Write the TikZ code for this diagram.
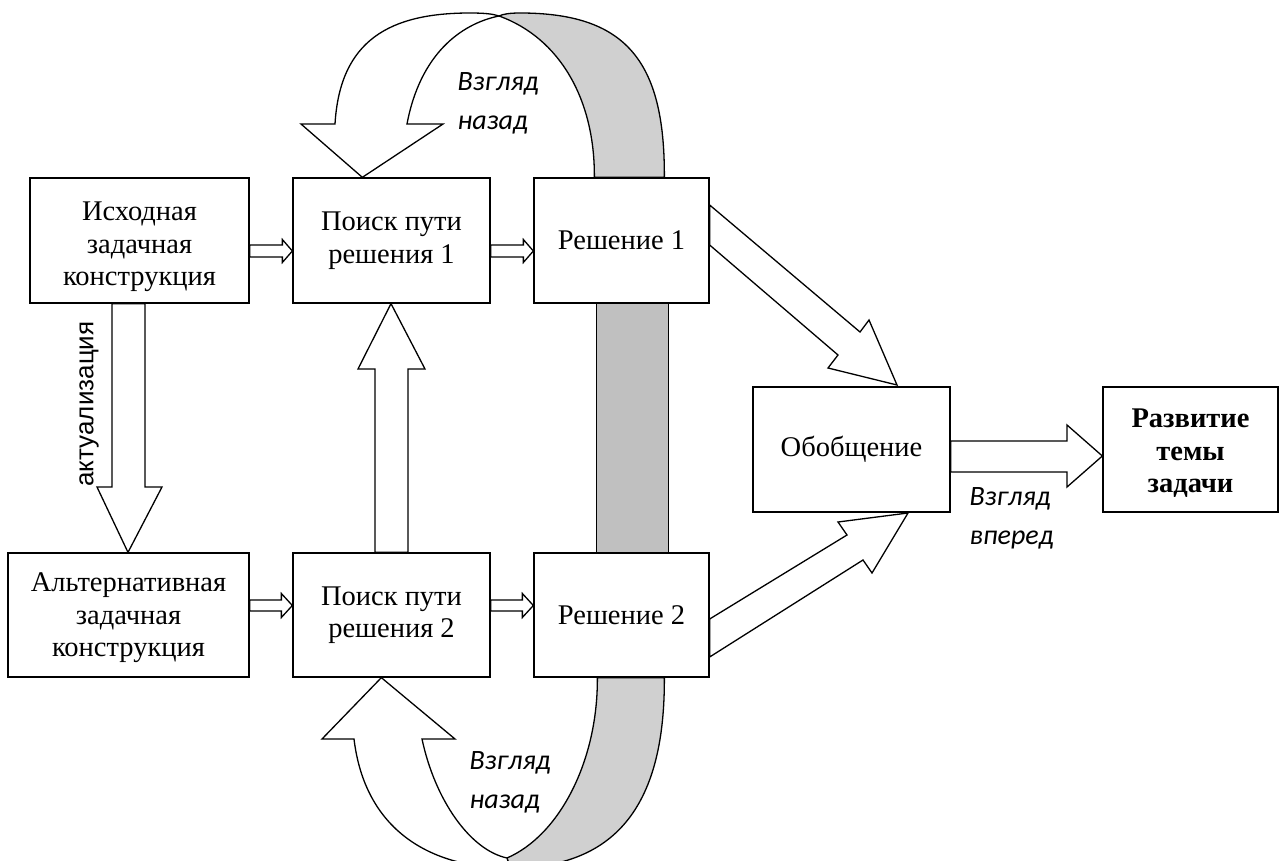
\documentclass[tikz,border=0pt]{standalone}
\usepackage{fontspec}
\setmainfont{Liberation Serif}
\newfontfamily\calibfont{Carlito}
\newfontfamily\arialfont{Liberation Sans}
\usetikzlibrary{calc}
\definecolor{bandlight}{RGB}{208,208,208}
\definecolor{banddark}{RGB}{192,192,192}
\newcommand\hblock[6]{% from, to, y, shaft half, head half, head length
  \draw[blockarrow] ($(#1.east|-0,#3)+(0,-#4)$) -- ($(#2.west|-0,#3)+(-#6,-#4)$)
    -- ($(#2.west|-0,#3)+(-#6,-#5)$) -- (#2.west|-0,#3)
    -- ($(#2.west|-0,#3)+(-#6,#5)$) -- ($(#2.west|-0,#3)+(-#6,#4)$)
    -- ($(#1.east|-0,#3)+(0,#4)$) -- cycle;}
\newcommand\upstrut[1]{\rule{0pt}{#1}}
\begin{document}
\begin{tikzpicture}[x=1pt,y=-1pt, line width=1.3pt, line join=miter,
  box/.style={draw, fill=white, inner sep=0pt, align=center,
    font=\fontsize{28.5}{32.5}\selectfont},
  blockarrow/.style={draw, fill=white},
  look/.style={font=\calibfont\itshape\fontsize{28}{39}\selectfont, align=left, inner sep=0pt}]
\useasboundingbox (0,0) rectangle (1280,861);
\clip (0,0) rectangle (1280,861);

% boxes
\node[box, minimum width=219pt, minimum height=125pt] (A) at (139.5,240.5) {\upstrut{32pt}Исходная\\задачная\\конструкция};
\node[box, minimum width=197pt, minimum height=125pt] (B) at (391.5,240.5) {Поиск пути\\решения 1};
\node[box, minimum width=175pt, minimum height=125pt] (C) at (621.5,240.5) {Решение 1};
\node[box, minimum width=197pt, minimum height=125pt] (D) at (851.5,449.5) {Обобщение};
\node[box, minimum width=175pt, minimum height=125pt, font=\bfseries\fontsize{28.5}{32.5}\selectfont] (E) at (1190.5,449.5) {\upstrut{26pt}Развитие\\темы\\задачи};
\node[box, minimum width=241pt, minimum height=124pt] (F) at (128.5,615) {\upstrut{25pt}Альтернативная\\задачная\\конструкция};
\node[box, minimum width=197pt, minimum height=124pt] (G) at (391.5,615) {Поиск пути\\решения 2};
\node[box, minimum width=175pt, minimum height=124pt] (H) at (621.5,615) {Решение 2};

% middle band
\draw[fill=banddark] ($(C.south west)+(63,0)$) rectangle ($(H.north west)+(135,0)$);

% top curved arrow
\draw[fill=bandlight] (499,16) .. controls (560,38) and (595,100) .. ($(C.north west)+(61,0)$)
  -- ($(C.north west)+(131,0)$) .. controls (665,60) and (625,13) .. (520,13)
  .. controls (510,13) and (503,14) .. (499,16) -- cycle;
\draw[fill=white] (499,16) .. controls (460,24) and (420,55) .. (407,124) -- (443,124)
  -- ($(B.north west)+(70,0)$) -- (301,124) -- (335,124)
  .. controls (340,40) and (390,13) .. (470,13) .. controls (485,13) and (493,14) .. (499,16) -- cycle;

% bottom curved arrow
\draw[fill=bandlight] (507,858) .. controls (560,835) and (598,760) .. ($(H.south west)+(64,0)$)
  -- ($(H.south west)+(131,0)$) .. controls (665,800) and (620,868) .. (510,868) -- cycle;
\draw[fill=white] (507,858) .. controls (470,850) and (435,800) .. (422,739) -- (455,739)
  -- ($(G.south west)+(89,0)$) -- (322,739) -- (354,739)
  .. controls (365,830) and (430,868) .. (510,868) -- cycle;

% small horizontal arrows
\hblock{A}{B}{251}{6}{11.5}{10}
\hblock{B}{C}{251}{6}{11.5}{10}
\hblock{F}{G}{605.5}{5.5}{12}{11}
\hblock{G}{H}{605.5}{5.5}{12}{11}

% vertical arrow A -> F
\draw[blockarrow] (A.south-|112,0) -- (112,487) -- (97,487) -- (F.north-|128,0)
  -- (162,487) -- (145,487) -- (A.south-|145,0) -- cycle;
% vertical arrow G -> B
\draw[blockarrow] (G.north-|375,0) -- (375,369) -- (358,369) -- (B.south-|391,0)
  -- (425,369) -- (408,369) -- (G.north-|408,0) -- cycle;

% diagonal arrows
\draw[blockarrow] (C.east|-0,205) -- (860,332) -- (869,320) -- (897,385)
  -- (828,368) -- (838,355) -- (C.east|-0,245) -- cycle;
\draw[blockarrow] (H.east|-0,619) -- (847,535) -- (838,522) -- (908,513)
  -- (872,573) -- (863,560) -- (H.east|-0,657) -- cycle;
% D -> E
\draw[blockarrow] (D.east|-0,441) -- (1067,441) -- (1067,425) -- (E.west|-0,456)
  -- (1067,487) -- (1067,472) -- (D.east|-0,472) -- cycle;

% labels
\node[font=\arialfont\fontsize{26}{30}\selectfont, rotate=90, inner sep=0pt] (act) at (89,404) {актуализация};
\node[look, anchor=west] (lk1) at (457,103) {Взгляд\\назад};
\node[look, anchor=west] (lk2) at (469,782) {Взгляд\\назад};
\node[look, anchor=west] (lk3) at (969,518) {Взгляд\\вперед};
\end{tikzpicture}
\end{document}
